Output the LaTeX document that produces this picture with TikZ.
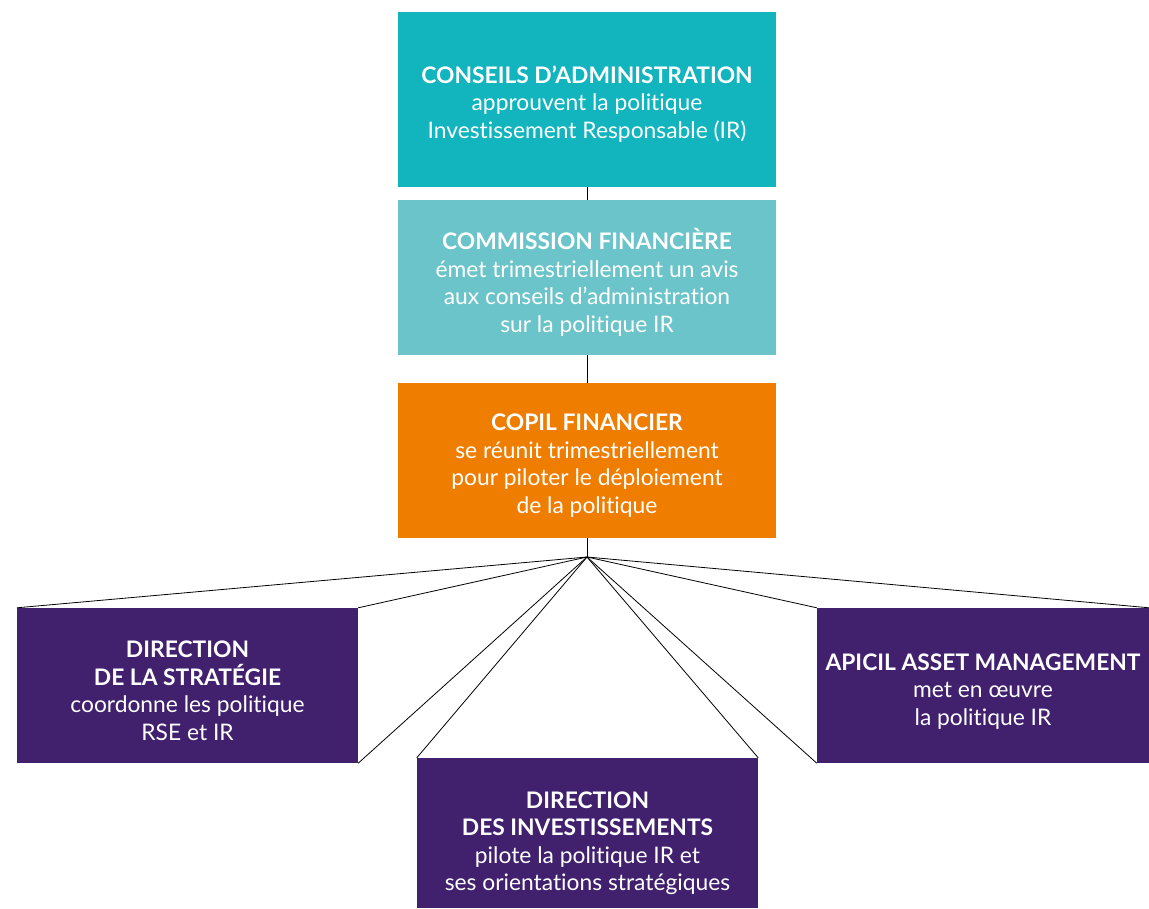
\documentclass[tikz,border=0pt]{standalone}
\usepackage{fontspec}
\setmainfont{Lato}[Ligatures=NoCommon]
\usetikzlibrary{positioning}
\definecolor{tealfonce}{HTML}{12B4BE}
\definecolor{tealclair}{HTML}{6BC4C9}
\definecolor{orangecopil}{HTML}{EF7D00}
\definecolor{violetdir}{HTML}{41206E}

\begin{document}
\begin{tikzpicture}[x=1pt, y=-1pt,
			boite/.style={draw=none, inner sep=0pt},
			texte/.style={text=white, align=center, inner sep=0pt, yshift=-5,
				font=\fontsize{22.8}{27.5}\selectfont},
			lien/.style={draw=black, line width=0.8pt}]
			
			\useasboundingbox (0,0) rectangle (1149,908);
			
			% Boites du haut, empilees
			\node[boite, fill=tealfonce, minimum width=378, minimum height=175,
				label={[texte]center:{\textbf{CONSEILS D’ADMINISTRATION}\\approuvent la politique\\Investissement Responsable (IR)}}] (ca) at (587,99) {};
			\node[boite, fill=tealclair, minimum width=378, minimum height=155,
				label={[texte]center:{\textbf{COMMISSION FINANCIÈRE}\\émet trimestriellement un avis\\aux conseils d’administration\\sur la politique IR}}] (cf) at (587,277.5) {};
			\node[boite, fill=orangecopil, minimum width=378, minimum height=155,
				label={[texte]center:{\textbf{COPIL FINANCIER}\\se réunit trimestriellement\\pour piloter le déploiement\\de la politique}}] (copil) at (587,460.5) {};
			
			% Directions
			\node[boite, fill=violetdir, minimum width=341, minimum height=155,
				label={[texte]center:{\textbf{DIRECTION}\\\textbf{DE LA STRATÉGIE}\\coordonne les politique\\RSE et IR}}] (strat) at (187.5,685.5) {};
			\node[boite, fill=violetdir, minimum width=332, minimum height=155,
				label={[texte, yshift=-1]center:{\textbf{APICIL ASSET MANAGEMENT}\\met en œuvre\\la politique IR}}] (apicil) at (983,685.5) {};
			\node[boite, fill=violetdir, minimum width=341, minimum height=150,
				label={[texte, yshift=-5]center:{\textbf{DIRECTION}\\\textbf{DES INVESTISSEMENTS}\\pilote la politique IR et\\ses orientations stratégiques}}] (invest) at (587.5,833) {};
			
			\coordinate (hub) at (587,557);
			
			% --- Liens ---
			\draw[lien] (ca) -- (cf);
			\draw[lien] (cf) -- (copil);
			\draw[lien] (copil) -- (hub);
			
			% Eventail vers les directions
			\draw[lien] (hub) -- (strat.north west);
			\draw[lien] (hub) -- (strat.north east);
			\draw[lien] (hub) -- (strat.south east);
			\draw[lien] (hub) -- (apicil.north east);
			\draw[lien] (hub) -- (apicil.north west);
			\draw[lien] (hub) -- (apicil.south west);
			\draw[lien] (hub) -- (invest.north west);
			\draw[lien] (hub) -- (invest.north east);
		\end{tikzpicture}
\end{document}
